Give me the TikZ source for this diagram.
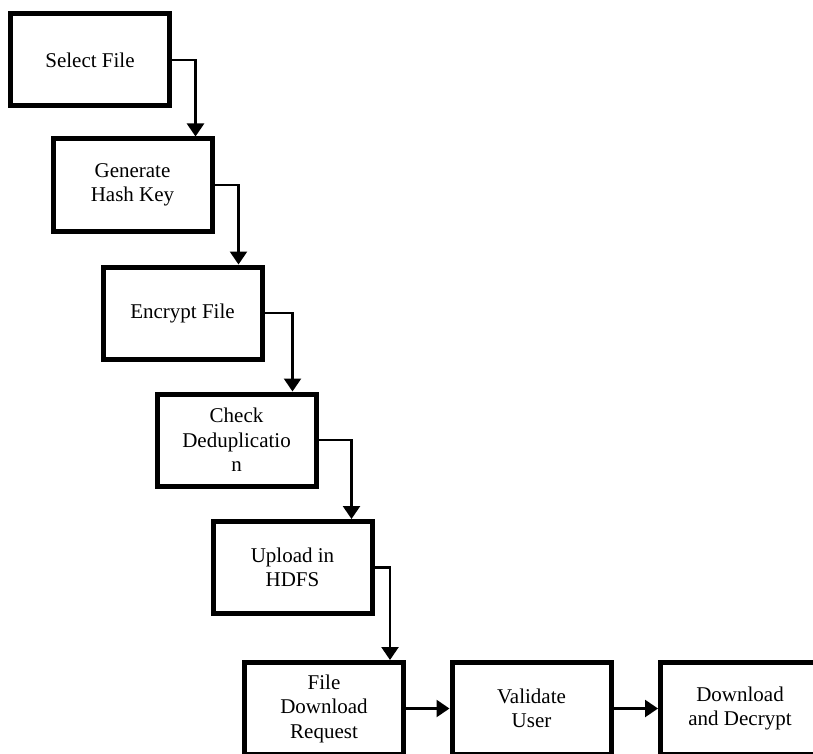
\documentclass[tikz,border=0pt]{standalone}
\usepackage{fontspec}
\setmainfont{Liberation Serif}
\usepackage{tikz}
\usetikzlibrary{arrows.meta}
\definecolor{ink}{HTML}{000000}
\tikzset{
  box/.style={draw=ink, line width=5pt, minimum width=159pt, minimum height=92pt,
    inner sep=0pt, align=center, font=\fontsize{21pt}{24.5pt}\selectfont},
  flow/.style={draw=ink, line width=2.5pt, -{Triangle[length=13pt,width=17pt]}},
}

\begin{document}
\begin{tikzpicture}[x=1pt, y=-1pt]
  \useasboundingbox (0,0) rectangle (813,754);
  \clip (0,0) rectangle (813,754);
  % upload chain, stepping down to the right
  \node[box] (sel) at (90,60) {Select File};
  \node[box] (hash) at (132.5,185) {Generate\\Hash Key};
  \node[box] (enc) at (182.5,313) {Encrypt File};
  \node[box] (dedup) at (236.5,440) {Check\\Deduplicatio\\n};
  \node[box] (upload) at (292.5,567.5) {Upload in\\HDFS};
  % download row, cut by the page edge
  \node[box] (req) at (324,708.5) {File\\Download\\Request};
  \node[box] (valid) at (531.5,708.5) {Validate\\User};
  \node[box] (decrypt) at (740,708.5) {Download\\and Decrypt};
  \draw[flow] (sel.east) -| ([xshift=-19pt]hash.north east);
  \draw[flow] (hash.east) -| ([xshift=-26pt]enc.north east);
  \draw[flow] (enc.east) -| ([xshift=-26pt]dedup.north east);
  \draw[flow] (dedup.east) -| ([xshift=-23pt]upload.north east);
  \draw[flow] (upload.east) -| ([xshift=-16pt]req.north east);
  \draw[flow] (req) -- (valid);
  \draw[flow] (valid) -- (decrypt);
\end{tikzpicture}
\end{document}
